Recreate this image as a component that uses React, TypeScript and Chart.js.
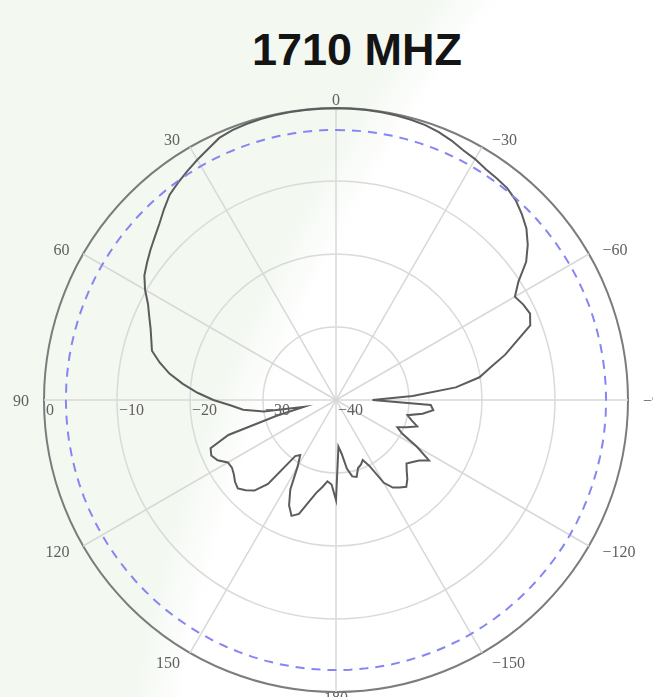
import React, { useEffect, useRef } from 'react';
import { Chart, registerables } from 'chart.js';

Chart.register(...registerables);

// Azimuth categories (degrees, counter-clockwise positive), listed clockwise from the top in 3° steps
const STEP = 3;
const azimuths: number[] = Array.from({ length: 360 / STEP }, (_, i) => {
  const c = i * STEP;
  return c < 180 ? -c : 360 - c;
});

// Measured gain (dB) at each azimuth above, same order
const gainDb: number[] = [
  -0.05, -0.05, -0.05, -0.1, -0.15, -0.25, -0.4, -0.7, -1.1, -1.6,
  -1.9, -2.3, -2.5, -2.7, -3.2, -4.0, -4.9, -6.2, -7.8, -10.2,
  -11.7, -11.2, -10.9, -11.5, -14.0, -16.0, -18.3, -20.1, -23.5, -29.5,
  -35.0, -27.0, -26.6, -28.0, -30.0, -29.3, -28.3, -29.6, -30.8, -29.8,
  -27.2, -24.8, -25.9, -26.5, -27.0, -26.3, -25.4, -24.7, -25.2, -25.7,
  -26.9, -29.8, -31.0, -30.5, -30.2, -29.1, -29.3, -30.5, -32.6, -33.6,
  -26.3, -28.4, -28.8, -27.9, -27.0, -25.5, -23.6, -23.0, -24.2, -26.2,
  -29.5, -31.0, -30.5, -25.2, -23.3, -22.5, -21.9, -22.2, -22.7, -23.0,
  -22.9, -21.8, -21.3, -21.6, -24.5, -31.5, -35.5, -30.0, -27.2, -25.6,
  -23.2, -21.0, -18.9, -16.9, -15.3, -13.9, -13.4, -12.8, -12.0, -11.1,
  -9.8, -8.7, -8.0, -7.3, -6.6, -5.8, -4.8, -3.8, -3.2, -2.6,
  -2.0, -1.4, -0.7, -0.4, -0.25, -0.15, -0.1, -0.05, -0.05, -0.05,
];

// -3 dB reference level (blue dashed ring)
const refLevelDb = -3;
const refLine: number[] = azimuths.map(() => refLevelDb);

const ringTicks: number[] = [0, -10, -20, -30, -40];
const shownAzimuths: number[] = [0, 30, 60, 90, 120, 150, 180, -150, -120, -90, -60, -30];
const titleText = '1710 MHZ';

const fmt = (v: number) => (v < 0 ? '\u2212' + Math.abs(v) : String(v));

const labelPlugin = {
  id: 'polarLabels',
  afterDatasetsDraw(chart: any) {
    const s = chart.scales.r;
    const ctx = chart.ctx;
    ctx.save();
    ctx.font = '16px "Liberation Serif", "DejaVu Serif", serif';
    ctx.fillStyle = '#606060';
    ctx.textBaseline = 'middle';
    shownAzimuths.forEach((az) => {
      const idx = azimuths.indexOf(az);
      const label = fmt(az);
      if (az === 0 || az === 180) {
        const p = s.getPointPosition(idx, s.drawingArea + 7);
        ctx.textAlign = 'center';
        ctx.fillText(label, p.x, p.y);
      } else {
        const p = s.getPointPosition(idx, s.drawingArea + 10);
        if (az > 0) {
          ctx.textAlign = 'right';
          ctx.fillText(label, p.x - 5, p.y + 2);
        } else {
          ctx.textAlign = 'left';
          ctx.fillText(label, p.x + 5, p.y + 2);
        }
      }
    });
    ctx.textAlign = 'left';
    ringTicks.forEach((v) => {
      const d = s.getDistanceFromCenterForValue(v);
      ctx.fillText(fmt(v), s.xCenter - d + 2, s.yCenter + 11);
    });
    ctx.restore();
  },
};

export default function App() {
  const ref = useRef<HTMLCanvasElement | null>(null);

  useEffect(() => {
    if (!ref.current) return;
    const chart = new Chart(ref.current, {
      type: 'radar',
      data: {
        labels: azimuths.map(String),
        datasets: [
          {
            label: '-3 dB',
            data: refLine,
            borderColor: '#8686f2',
            borderWidth: 2,
            borderDash: [9, 7],
            pointRadius: 0,
            fill: false,
          },
          {
            label: '1710 MHz',
            data: gainDb,
            borderColor: '#5c5c5c',
            borderWidth: 2,
            pointRadius: 0,
            fill: false,
            tension: 0,
          },
        ],
      },
      options: {
        responsive: false,
        animation: false,
        layout: { padding: { left: 44, right: 25, top: 108, bottom: 5 } },
        plugins: {
          legend: { display: false },
          tooltip: { enabled: false },
          title: { display: false },
        },
        scales: {
          r: {
            min: -40,
            max: 0,
            startAngle: 0,
            ticks: { display: false, stepSize: 10 },
            pointLabels: { display: false },
            grid: {
              circular: true,
              color: (c: any) => (c.tick && c.tick.value === 0 ? '#7c7c7c' : '#dadada'),
              lineWidth: (c: any) => (c.tick && c.tick.value === 0 ? 2 : 1.5),
            },
            angleLines: {
              color: '#d8d8d8',
              lineWidth: (c: any) => (c.index % 10 === 0 ? 1.5 : 0),
            },
          },
        },
      } as any,
      plugins: [labelPlugin],
    });
    return () => chart.destroy();
  }, []);

  return (
    <div
      style={{
        position: 'absolute',
        left: 0,
        top: 0,
        width: 653,
        height: 697,
        overflow: 'hidden',
        background:
          'radial-gradient(circle 1700px at 1716px 970px, #ffffff 1555px, #f3f8f1 1610px)',
      }}
    >
      <div
        style={{
          position: 'absolute',
          left: 0,
          top: 27,
          width: 714,
          textAlign: 'center',
          font: 'bold 45px "Liberation Sans", Arial, sans-serif',
          lineHeight: '45px',
          color: '#141414',
        }}
      >
        {titleText}
      </div>
      <canvas
        ref={ref}
        width={653}
        height={697}
        style={{ position: 'absolute', left: 0, top: 0, width: 653, height: 697, display: 'block' }}
      />
    </div>
  );
}
